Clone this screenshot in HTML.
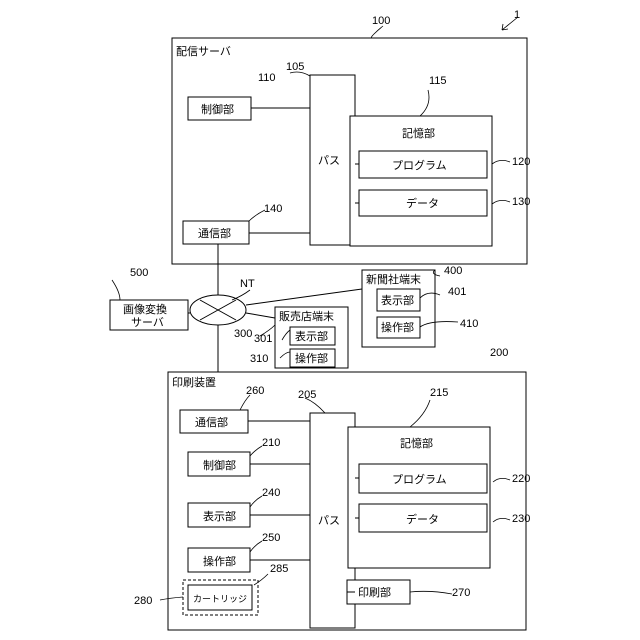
<!DOCTYPE html>
<html><head><meta charset="utf-8"><style>body{margin:0;background:#fff}svg{display:block}text{font-family:"Liberation Sans","Noto Sans CJK JP",sans-serif;font-size:11px;fill:#000}</style></head><body>
<svg width="640" height="640" viewBox="0 0 640 640" stroke="#000" stroke-width="1" fill="none">
<g fill="#fff">
<rect x="172" y="38" width="355" height="226"/>
<rect x="188" y="97" width="63" height="23"/>
<rect x="183" y="221" width="66" height="23"/>
<rect x="310" y="75" width="45" height="170"/>
<rect x="350" y="116" width="142" height="130"/>
<rect x="359" y="151" width="128" height="27"/>
<rect x="359" y="190" width="128" height="26"/>
</g>
<path d="M251 108H310M249 233H310M355 164H359M355 203H359"/>
<path d="M218 244V372"/>
<ellipse cx="218" cy="310" rx="28" ry="15" fill="#fff"/>
<path d="M200 300L236 320M200 320L236 300"/>
<path d="M188 313H190M246 305L362 289M246 313L275 318"/>
<g fill="#fff">
<rect x="110" y="300" width="78" height="30"/>
<rect x="275" y="307" width="73" height="61"/>
<rect x="290" y="327" width="45" height="18"/>
<rect x="290" y="349" width="45" height="18"/>
<rect x="362" y="270" width="73" height="77"/>
<rect x="377" y="289" width="43" height="22"/>
<rect x="377" y="317" width="43" height="21"/>
<rect x="168" y="372" width="358" height="258"/>
<rect x="180" y="410" width="68" height="23"/>
<rect x="310" y="413" width="45" height="215"/>
<rect x="188" y="452" width="62" height="24"/>
<rect x="188" y="503" width="62" height="24"/>
<rect x="188" y="548" width="62" height="24"/>
<rect x="348" y="427" width="142" height="141"/>
<rect x="359" y="464" width="128" height="29"/>
<rect x="359" y="504" width="128" height="28"/>
<rect x="347" y="580" width="63" height="24"/>
</g>
<rect x="183" y="580" width="75" height="35" stroke-dasharray="3,2"/>
<rect x="188" y="585" width="64" height="25"/>
<path d="M248 421H310M250 464H310M250 515H310M250 560H310M355 478H359M355 518H359M355 592H347"/>
<g stroke-width="0.8">
<path d="M383 26Q378 30 374 34T372 38M290 73Q300 70 310 76M428 90Q432 105 420 116M492 164Q500 158 510 162M492 204Q500 198 510 202M112 280Q120 292 120 300M250 290Q242 296 232 300M440 276Q430 274 435 270M420 298Q428 290 440 295M420 327Q430 320 458 322M265 210Q255 215 249 221M250 395Q245 400 240 410M305 398Q315 402 325 413M430 400Q425 415 410 427M262 446Q255 450 250 456M262 496Q255 500 250 507M262 541Q255 545 250 552M268 574Q262 580 254 585M160 600Q170 598 183 597M260 336Q270 330 275 325M282 340Q286 333 290 330M280 358Q286 352 290 352M452 594Q430 590 410 592M493 482Q500 476 510 480M493 522Q500 516 510 520"/>
<path d="M518 17L502 30M502 30L508 29M502 30L503 24"/>
</g>
<g stroke="none">
<text x="176" y="55">配信サーバ</text><text x="372" y="24">100</text><text x="514" y="18">1</text>
<text x="258" y="81">110</text><text x="201" y="113">制御部</text><text x="286" y="70">105</text>
<text x="429" y="84">115</text><text x="402" y="137">記憶部</text>
<text x="392" y="169">プログラム</text><text x="406" y="207">データ</text>
<text x="512" y="165">120</text><text x="512" y="205">130</text>
<text x="264" y="212">140</text><text x="198" y="237">通信部</text><text x="318" y="164">パス</text>
<text x="130" y="276">500</text><text x="123" y="313">画像変換</text><text x="131" y="326">サーバ</text>
<text x="240" y="287">NT</text>
<text x="279" y="320">販売店端末</text><text x="295" y="340">表示部</text><text x="295" y="362">操作部</text>
<text x="234" y="337">300</text><text x="254" y="342">301</text><text x="250" y="362">310</text>
<text x="366" y="283">新聞社端末</text><text x="381" y="304">表示部</text><text x="381" y="331">操作部</text>
<text x="444" y="274">400</text><text x="448" y="295">401</text><text x="460" y="327">410</text>
<text x="490" y="356">200</text><text x="172" y="386">印刷装置</text>
<text x="246" y="394">260</text><text x="195" y="426">通信部</text><text x="298" y="398">205</text>
<text x="430" y="396">215</text><text x="400" y="447">記憶部</text>
<text x="392" y="483">プログラム</text><text x="406" y="523">データ</text>
<text x="512" y="482">220</text><text x="512" y="522">230</text>
<text x="262" y="446">210</text><text x="203" y="469">制御部</text>
<text x="262" y="496">240</text><text x="203" y="520">表示部</text>
<text x="262" y="541">250</text><text x="203" y="565">操作部</text>
<text x="318" y="524">パス</text>
<text x="270" y="572">285</text><text x="193" y="602" style="font-size:9px">カートリッジ</text>
<text x="134" y="604">280</text><text x="358" y="596">印刷部</text><text x="452" y="596">270</text>
</g>
</svg>
</body></html>
